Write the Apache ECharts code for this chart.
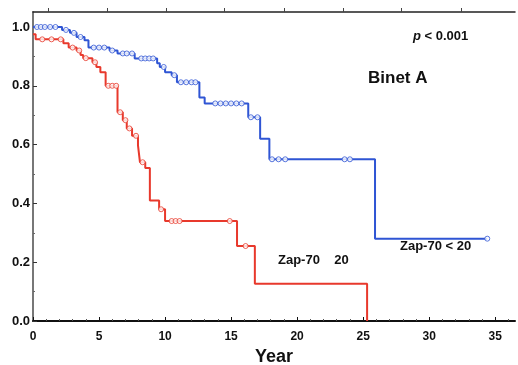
<!DOCTYPE html>
<html>
<head>
<meta charset="utf-8">
<script src="https://cdn.jsdelivr.net/npm/echarts@6/dist/echarts.min.js"></script>
<style>
html,body{margin:0;padding:0;background:#fff;}
#c{width:518px;height:365px;}
</style>
</head>
<body>
<div id="c"></div>
<script>
// Zap-70 < 20 (blue): event times (years) and survival after each step
const blueTimes = [0, 2.2, 2.8, 3.3, 3.9, 4.2, 5.8, 6.4, 7.7, 9.4, 9.6, 10.0, 10.5, 10.9, 12.6, 13.0, 16.3, 17.2, 17.9, 25.9, 34.4];
const blueSurv  = [1.0, 0.99, 0.98, 0.966, 0.955, 0.93, 0.92, 0.91, 0.893, 0.877, 0.864, 0.846, 0.836, 0.812, 0.76, 0.74, 0.693, 0.62, 0.55, 0.28, 0.28];
const blueCensor = [0.3, 0.6, 0.9, 1.3, 1.7, 2.5, 3.1, 3.6, 4.6, 5.0, 5.4, 6.0, 6.8, 7.1, 7.5, 8.2, 8.5, 8.8, 9.1, 9.9, 10.7, 11.2, 11.6, 12.0, 12.3, 13.8, 14.2, 14.6, 15.0, 15.4, 15.8, 16.5, 17.0, 18.1, 18.6, 19.1, 23.6, 24.0, 34.4];

// Zap-70 >= 20 (red)
const redTimes = [0, 0.2, 2.3, 2.7, 3.3, 3.6, 3.8, 4.5, 4.8, 5.1, 5.5, 6.4, 6.8, 7.1, 7.5, 7.95, 8.1, 8.5, 8.85, 9.55, 10.0, 15.45, 16.8, 25.3];
const redSurv  = [0.975, 0.958, 0.945, 0.93, 0.92, 0.905, 0.894, 0.88, 0.864, 0.846, 0.80, 0.71, 0.683, 0.655, 0.63, 0.597, 0.54, 0.52, 0.41, 0.38, 0.34, 0.255, 0.127, 0];
const redCensor = [0.7, 1.4, 2.1, 3.0, 3.5, 4.0, 4.7, 5.7, 6.0, 6.3, 6.6, 7.0, 7.3, 7.8, 8.3, 9.7, 10.5, 10.8, 11.1, 14.9, 16.1];

// Axis ticks
const xTicks = [0, 5, 10, 15, 20, 25, 30, 35];
const yTicks = [0.0, 0.2, 0.4, 0.6, 0.8, 1.0];
const topTickMarks = [1.14, 5.6, 10.1, 14.5, 19.0, 23.5, 27.9, 32.4];

const BLUE = '#2f55d4';
const RED = '#e8392c';

function stepData(t, s) { return t.map((v, i) => [v, s[i]]); }
function survAt(t, s, x) {
  let v = s[0];
  for (let i = 0; i < t.length; i++) { if (t[i] <= x) v = s[i]; }
  return v;
}
function censorData(ct, t, s) { return ct.map(x => [x, survAt(t, s, x)]); }

const chart = echarts.init(document.getElementById('c'), null, {renderer: 'canvas'});
const FONT = 'Liberation Sans, Arial, sans-serif';

chart.setOption({
  animation: false,
  backgroundColor: '#fff',
  grid: {left: 33, right: 3, top: 12, bottom: 44, containLabel: false, outerBoundsMode: 'none'},
  xAxis: [{
    type: 'value', min: 0, max: 36.5, interval: 5,
    axisLine: {show: true, onZero: false, lineStyle: {color: '#111', width: 2}},
    axisTick: {show: true, inside: true, length: 4, lineStyle: {color: '#111'}, customValues: xTicks},
    minorTick: {show: true, splitNumber: 5, length: 2, lineStyle: {color: '#555'}},
    splitLine: {show: false},
    axisLabel: {show: true, customValues: xTicks, color: '#111', fontFamily: FONT, fontWeight: 'bold', fontSize: 12, margin: 10},
    name: 'Year', nameLocation: 'middle', nameGap: 24,
    nameTextStyle: {color: '#111', fontFamily: FONT, fontWeight: 'bold', fontSize: 18}
  }, {
    type: 'value', position: 'top', min: 0, max: 36.5,
    axisLine: {show: true, onZero: false, lineStyle: {color: '#222', width: 1.5}},
    axisTick: {show: true, inside: false, length: 4, lineStyle: {color: '#444'}, customValues: topTickMarks},
    axisLabel: {show: false},
    splitLine: {show: false}
  }],
  yAxis: {
    type: 'value', min: 0, max: 1.051, interval: 0.2,
    axisLine: {show: true, onZero: false, lineStyle: {color: '#777', width: 2}},
    axisTick: {show: true, inside: true, length: 4, lineStyle: {color: '#333'}, customValues: yTicks},
    minorTick: {show: true, splitNumber: 2, length: 2, lineStyle: {color: '#666'}},
    splitLine: {show: false},
    axisLabel: {show: true, customValues: yTicks, color: '#111', fontFamily: FONT, fontWeight: 'bold', fontSize: 13, margin: 3,
      formatter: v => v.toFixed(1)}
  },
  series: [
    {type: 'line', step: 'end', data: stepData(blueTimes, blueSurv), symbol: 'none',
     lineStyle: {color: BLUE, width: 2}, z: 3},
    {type: 'line', step: 'end', data: stepData(redTimes, redSurv), symbol: 'none',
     lineStyle: {color: RED, width: 2}, z: 3},
    {type: 'scatter', data: censorData(blueCensor, blueTimes, blueSurv), symbol: 'circle', symbolSize: 5,
     itemStyle: {color: '#fff', borderColor: BLUE, borderWidth: 1}, z: 4},
    {type: 'scatter', data: censorData(redCensor, redTimes, redSurv), symbol: 'circle', symbolSize: 5,
     itemStyle: {color: '#fff', borderColor: RED, borderWidth: 1}, z: 4}
  ],
  graphic: [
    {type: 'text', left: 413, top: 30, style: {rich: {
      i: {fontStyle: 'italic', fontWeight: 'bold', fontSize: 13, fontFamily: FONT, fill: '#111'},
      b: {fontWeight: 'bold', fontSize: 13, fontFamily: FONT, fill: '#111'}},
      text: '{i|p}{b| < 0.001}'}},
    {type: 'text', left: 368, top: 70, style: {text: 'Binet A', fontWeight: 'bold', fontSize: 17, fontFamily: FONT, fill: '#111'}},
    {type: 'text', left: 400, top: 240, style: {text: 'Zap-70 < 20', fontWeight: 'bold', fontSize: 13, fontFamily: FONT, fill: '#111'}},
    {type: 'text', left: 278, top: 254, style: {text: 'Zap-70    20', fontWeight: 'bold', fontSize: 13, fontFamily: FONT, fill: '#111'}}
  ]
});
</script>
</body>
</html>
